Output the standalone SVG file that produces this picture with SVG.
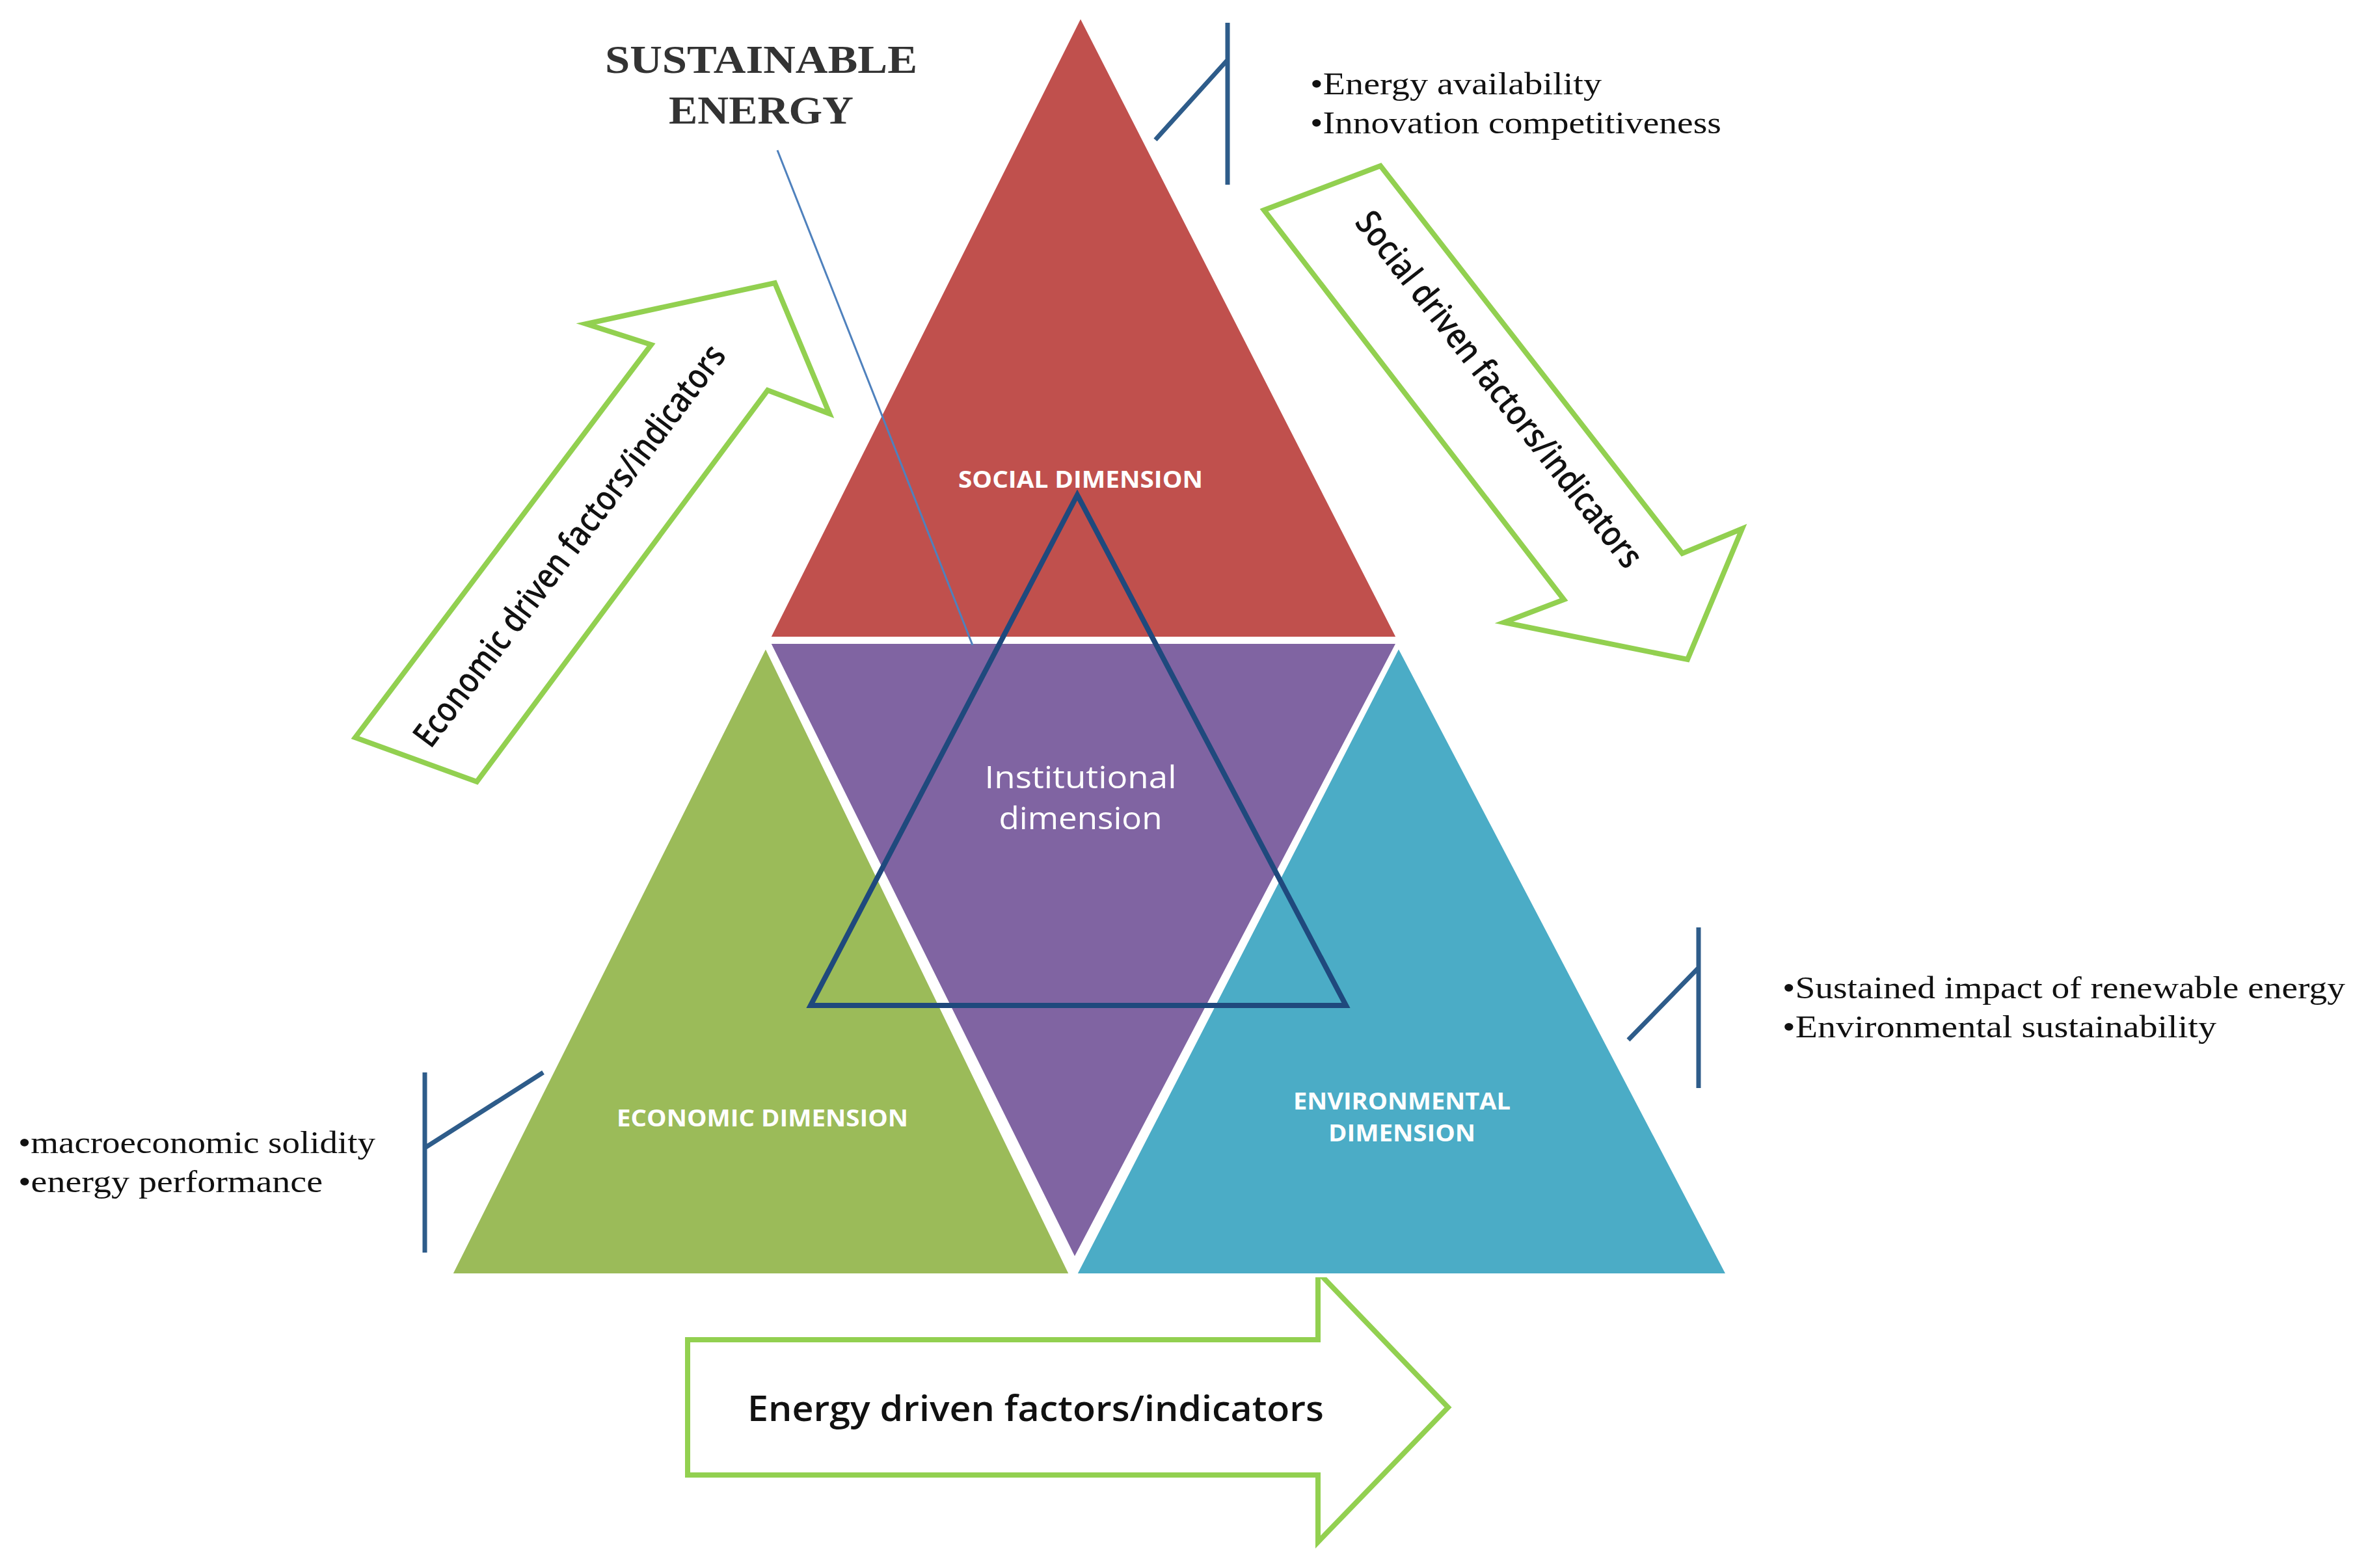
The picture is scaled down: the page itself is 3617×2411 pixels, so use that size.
<svg xmlns="http://www.w3.org/2000/svg" width="3617" height="2411" viewBox="0 0 3617 2411">
<style>
.arrow{fill:#fff;stroke:#92D050;stroke-width:8;stroke-linejoin:miter}
.tri{stroke:#fff;stroke-width:6}
.brk{stroke:#2E5C8A;stroke-width:7;fill:none}
.bul{font-family:"Liberation Serif",serif;font-size:48px;fill:#111}
.dim{font-family:"Open Sans","Liberation Sans",sans-serif;font-weight:bold;font-size:36px;fill:#fff;text-anchor:middle}
.arr{font-family:"Open Sans","Liberation Sans",sans-serif;font-size:54px;fill:#111;text-anchor:middle;font-weight:600}
</style>
<rect width="3617" height="2411" fill="#fff"/>
<g id="arrows">
<g id="arrow-economic"><polygon class="arrow" points="546,1134 733,1202 1180,600 1275,636 1191,435 901,498 1001,530"/>
<text class="arr" transform="translate(890,850) rotate(-53)" textLength="758" lengthAdjust="spacingAndGlyphs">Economic driven factors/indicators</text></g>
<g id="arrow-social"><polygon class="arrow" points="1943,323 2122,255 2586,851 2678,813 2594,1014 2312,957 2404,922"/>
<text class="arr" transform="translate(2290,610) rotate(52)" textLength="679" lengthAdjust="spacingAndGlyphs">Social driven factors/indicators</text></g>
<g id="arrow-energy"><polygon class="arrow" points="1057,2060 2026,2060 2026,1956 2226,2164 2026,2371 2026,2268 1057,2268"/>
<text class="arr" x="1592" y="2185" textLength="886" lengthAdjust="spacingAndGlyphs">Energy driven factors/indicators</text></g>
</g>
<g id="social"><polygon class="tri" fill="#C0504D" points="1661,23 2150,982 1181,982"/>
<text class="dim" x="1661" y="750" textLength="376" lengthAdjust="spacingAndGlyphs">SOCIAL DIMENSION</text></g>
<g id="economic"><polygon class="tri" fill="#9BBB59" points="1177,992 1647,1961 692,1961"/>
<text class="dim" x="1172" y="1732" textLength="448" lengthAdjust="spacingAndGlyphs">ECONOMIC DIMENSION</text></g>
<g id="environmental"><polygon class="tri" fill="#4BACC6" points="2150,992 2657,1961 1652,1961"/>
<text class="dim" x="2155" y="1706" textLength="334" lengthAdjust="spacingAndGlyphs">ENVIRONMENTAL</text>
<text class="dim" x="2155" y="1755" textLength="226" lengthAdjust="spacingAndGlyphs">DIMENSION</text></g>
<g id="institutional"><polygon class="tri" fill="#8064A2" points="1181,987 2150,987 1652,1938"/>
<text x="1661" y="1212" font-family="Open Sans,Liberation Sans,sans-serif" font-size="48" fill="#fff" text-anchor="middle" textLength="295" lengthAdjust="spacingAndGlyphs">Institutional</text>
<text x="1661" y="1275" font-family="Open Sans,Liberation Sans,sans-serif" font-size="48" fill="#fff" text-anchor="middle" textLength="251" lengthAdjust="spacingAndGlyphs">dimension</text></g>
<g id="core"><polygon points="1656,761 2069,1546 1246,1546" fill="none" stroke="#1F497D" stroke-width="8"/></g>
<g id="sustainable-energy">
<text x="1170" y="112" font-family="Liberation Serif,serif" font-weight="bold" font-size="62" fill="#333" text-anchor="middle" textLength="480" lengthAdjust="spacingAndGlyphs">SUSTAINABLE</text>
<text x="1170" y="190" font-family="Liberation Serif,serif" font-weight="bold" font-size="62" fill="#333" text-anchor="middle" textLength="284" lengthAdjust="spacingAndGlyphs">ENERGY</text>
</g>
<g id="connectors">
<line x1="1195" y1="231" x2="1495" y2="992" stroke="#4F81BD" stroke-width="3"/>
<path class="brk" d="M1887,35V284M1776,215L1887,92"/>
<path class="brk" d="M2611,1426V1673M2503,1599L2611,1488"/>
<path class="brk" d="M653,1649V1926M653,1765L835,1649"/>
</g>
<g id="notes">
<text class="bul" x="2014" y="145" textLength="448" lengthAdjust="spacingAndGlyphs">•Energy availability</text>
<text class="bul" x="2014" y="205" textLength="632" lengthAdjust="spacingAndGlyphs">•Innovation competitiveness</text>
<text class="bul" x="2740" y="1535" textLength="865" lengthAdjust="spacingAndGlyphs">•Sustained impact of renewable energy</text>
<text class="bul" x="2740" y="1595" textLength="667" lengthAdjust="spacingAndGlyphs">•Environmental sustainability</text>
<text class="bul" x="28" y="1773" textLength="549" lengthAdjust="spacingAndGlyphs">•macroeconomic solidity</text>
<text class="bul" x="28" y="1833" textLength="468" lengthAdjust="spacingAndGlyphs">•energy performance</text>
</g>
</svg>
